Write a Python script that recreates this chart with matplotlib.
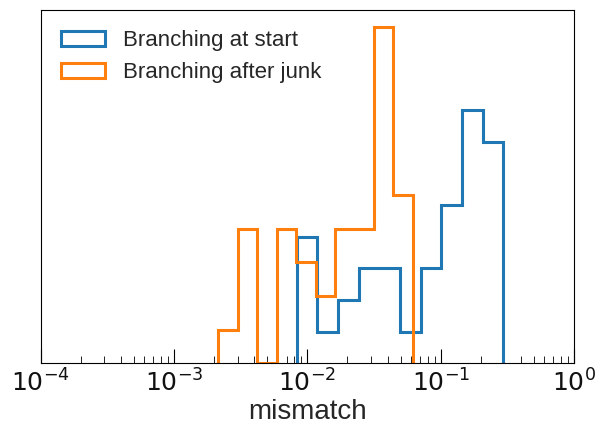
import numpy as np
import matplotlib
matplotlib.use("Agg")
import matplotlib.pyplot as plt

plt.rcParams['font.family'] = ['Liberation Sans', 'DejaVu Sans']
plt.rcParams['text.color'] = '#262626'
plt.rcParams['axes.labelcolor'] = '#262626'

# log10 of first / last bin edge
start_range = (-2.080, -0.530)
junk_range = (-2.668, -1.209)
# counts per bin (10 log-spaced bins each)
start_counts = [4, 1, 2, 3, 3, 1, 3, 5, 8, 7]
junk_counts = [1, 4, 0, 4, 3, 2, 4, 4, 10, 5]
labels = ['Branching at start', 'Branching after junk']
colors = ['#1f77b4', '#ff7f0e']

fig = plt.figure(figsize=(5.97, 4.24), dpi=100)
ax = fig.add_axes([0.068, 0.143, 0.8935, 0.833])

for rng, counts, lab, col in zip([start_range, junk_range],
                                 [start_counts, junk_counts], labels, colors):
    counts = np.array(counts, dtype=float)
    edges = np.logspace(rng[0], rng[1], len(counts) + 1)
    dlog = (rng[1] - rng[0]) / len(counts)
    centers = np.sqrt(edges[:-1] * edges[1:])
    ax.hist(centers, bins=edges, weights=counts / (counts.sum() * dlog),
            histtype='step', color=col, lw=2.2, label=lab)

ax.set_xscale('log')
ax.set_xlim(1e-4, 1)
ax.set_yticks([])
ax.tick_params(axis='x', which='major', direction='in', length=10,
               labelsize=18, pad=4, labelcolor='#111111',
               labelfontfamily='DejaVu Sans')
ax.tick_params(axis='x', which='minor', direction='in', length=5)
ax.set_xlabel('mismatch', fontsize=20, labelpad=2)
ax.legend(loc='upper left', frameon=False, fontsize=16)

fig.savefig('out.png', dpi=100)
